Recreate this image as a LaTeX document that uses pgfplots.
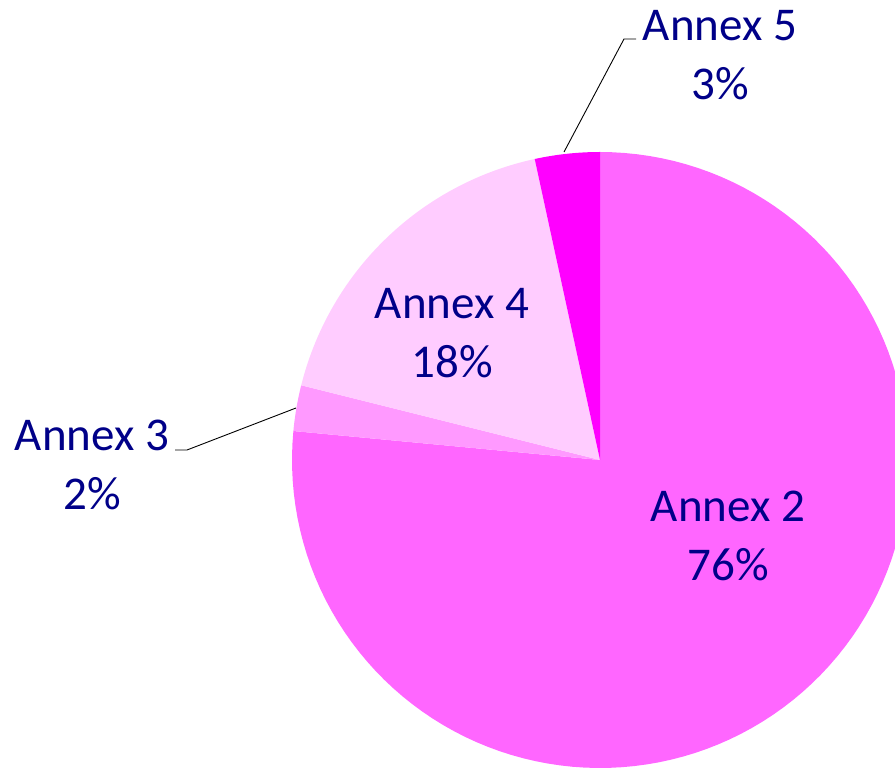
\documentclass[border=0pt]{standalone}
\usepackage{pgfplots}
\pgfplotsset{compat=1.18}
\usepackage{fontspec}
\setmainfont{Carlito}
\definecolor{cA}{HTML}{FF66FF}
\definecolor{cB}{HTML}{FF99FF}
\definecolor{cC}{HTML}{FFCCFF}
\definecolor{cD}{HTML}{FF00FF}
\definecolor{txt}{HTML}{000088}
\tikzset{lab/.style={font=\fontsize{47bp}{59bp}\selectfont, text=txt, align=center, inner sep=0pt}}
% shares (percent), clockwise from 12 o'clock
\def\vA{76.5}% Annex 2
\def\vB{2.4}% Annex 3
\def\vC{17.7}% Annex 4
\def\vD{3.4}% Annex 5
\begin{document}
\begin{tikzpicture}
\path[use as bounding box] (0,0) rectangle (895bp,771bp);
\pgfmathsetmacro\aA{90}
\pgfmathsetmacro\aB{90-3.6*\vA}
\pgfmathsetmacro\aC{\aB-3.6*\vB}
\pgfmathsetmacro\aD{\aC-3.6*\vC}
\pgfmathsetmacro\aE{\aD-3.6*\vD}
\begin{axis}[
  scale only axis, width=895bp, height=771bp,
  xmin=0, xmax=895, ymin=0, ymax=771,
  hide axis, clip=true,
]
\addplot[fill=cA, draw=none, domain=\aA:\aB, samples=120, variable=\t]
  ({600+308*cos(\t)}, {311+308*sin(\t)}) -- (axis cs:600,311) -- cycle;
\addplot[fill=cB, draw=none, domain=\aB:\aC, samples=20, variable=\t]
  ({600+308*cos(\t)}, {311+308*sin(\t)}) -- (axis cs:600,311) -- cycle;
\addplot[fill=cC, draw=none, domain=\aC:\aD, samples=60, variable=\t]
  ({600+308*cos(\t)}, {311+308*sin(\t)}) -- (axis cs:600,311) -- cycle;
\addplot[fill=cD, draw=none, domain=\aD:\aE, samples=20, variable=\t]
  ({600+308*cos(\t)}, {311+308*sin(\t)}) -- (axis cs:600,311) -- cycle;
\draw[black, line width=0.9bp] (axis cs:175,321) -- (axis cs:187,321) -- (axis cs:296,363);
\draw[black, line width=0.9bp] (axis cs:564,619) -- (axis cs:624,732) -- (axis cs:636,732);
\node[lab] at (axis cs:728,235) {Annex 2\\76\%};
\node[lab] at (axis cs:92,306) {Annex 3\\2\%};
\node[lab] at (axis cs:452,438) {Annex 4\\18\%};
\node[lab] at (axis cs:720,716) {Annex 5\\3\%};
\end{axis}
\end{tikzpicture}
\end{document}
